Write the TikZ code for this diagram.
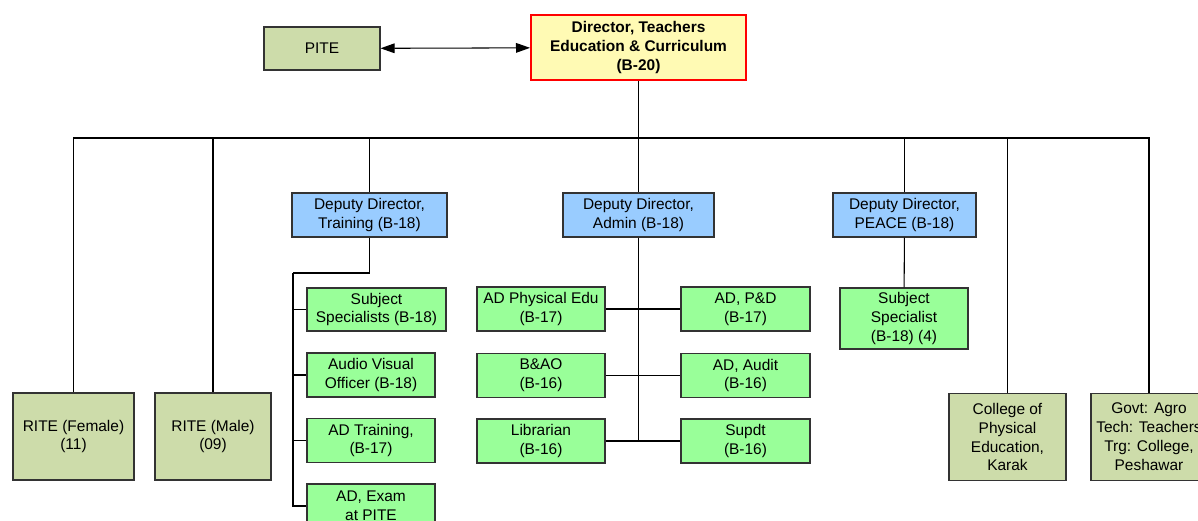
\documentclass[tikz,border=0pt]{standalone}
\usepackage{fontspec}
\setmainfont{Liberation Sans}
\usepackage{tikz}
\usetikzlibrary{arrows.meta, positioning}
\definecolor{olivefill}{RGB}{205,220,170}
\definecolor{greenfill}{RGB}{153,255,153}
\definecolor{bluefill}{RGB}{153,204,255}
\definecolor{yellowfill}{RGB}{255,250,180}
\tikzstyle{box} = [rectangle, draw=black!80, line width=0.6pt, align=center, inner sep=1pt,
    font=\fontsize{8.8}{10.8}\selectfont]
\tikzstyle{olivebox} = [box, fill=olivefill, minimum width=2.32cm, minimum height=1.74cm]
\tikzstyle{greenbox} = [box, fill=greenfill, minimum width=2.56cm, minimum height=0.88cm]
\tikzstyle{bluebox} = [box, fill=bluefill, minimum height=0.88cm]
\tikzstyle{headbox} = [box, draw=red, line width=1.1pt, fill=yellowfill, minimum width=4.3cm,
    minimum height=1.3cm, font=\fontsize{8.8}{10.8}\selectfont\bfseries]
\tikzstyle{line} = [line width=0.6pt]
\tikzstyle{arrow} = [line, <->, >={Triangle[length=8pt,width=5.5pt]}]

\begin{document}
\begin{tikzpicture}[x=0.02cm, y=-0.02cm]
  \useasboundingbox (0,0) rectangle (1198,521);
  % top
  \node (pite) [box, fill=olivefill, minimum width=2.32cm, minimum height=0.86cm] at (322,48.5) {PITE};
  \node (dir)  [headbox] at (638.5,47.5) {Director, Teachers\\Education \& Curriculum\\(B-20)};

  % second level
  \node (ritef)   [olivebox, minimum width=2.42cm] at (73.5,436.5) {RITE (Female)\\(11)};
  \node (ritem)   [olivebox] at (213,436.5) {RITE (Male)\\(09)};
  \node (ddt)     [bluebox, minimum width=3.1cm] at (369.5,215) {Deputy Director,\\Training (B-18)};
  \node (dda)     [bluebox, minimum width=3.02cm] at (638.5,215) {Deputy Director,\\Admin (B-18)};
  \node (ddp)     [bluebox, minimum width=2.86cm] at (904.5,215) {Deputy Director,\\PEACE (B-18)};
  \node (college) [olivebox, minimum width=2.34cm] at (1007.5,437) {College of\\Physical\\Education,\\Karak};
  \node (govt)    [olivebox] at (1149,437) {Govt: Agro\\Tech: Teachers\\Trg: College,\\Peshawar};

  % training
  \node (subj)  [greenbox, minimum width=2.78cm, minimum height=0.86cm] at (376.5,309.5) {Subject\\Specialists (B-18)};
  \node (audio) [greenbox] at (371,375) {Audio Visual\\Officer (B-18)};
  \node (adtr)  [greenbox] at (371,440.5) {AD Training,\\(B-17)};
  \node (exam)  [greenbox] at (371,506) {AD, Exam\\at PITE};

  % admin
  \node (adpe)  [greenbox] at (541,309) {AD Physical Edu\\(B-17)};
  \node (bao)   [greenbox] at (541,375.5) {B\&AO\\(B-16)};
  \node (lib)   [greenbox] at (541,441) {Librarian\\(B-16)};
  \node (adpd)  [greenbox, minimum width=2.58cm] at (745.5,309) {AD, P\&D\\(B-17)};
  \node (audit) [greenbox, minimum width=2.58cm] at (745.5,375.5) {AD, Audit\\(B-16)};
  \node (supdt) [greenbox, minimum width=2.58cm] at (745.5,441) {Supdt\\(B-16)};

  % peace
  \node (subsp) [greenbox, minimum height=1.22cm] at (904,318.5) {Subject\\Specialist\\(B-18) (4)};

  \draw[arrow] (pite) -- (dir);

  \coordinate (bus) at (638.5,138);
  \draw[line] (dir) -- (bus);
  \foreach \n in {ritef, ritem, ddt, dda, ddp, college, govt}
    \draw[line] (bus) -| (\n.north);

  \coordinate (tbend) at (293,273);
  \draw[line] (ddt.south) |- (tbend);
  \draw[line] (tbend) |- (exam.west);
  \foreach \n in {subj, audio, adtr}
    \draw[line] (tbend |- \n.west) -- (\n.west);

  \draw[line] (dda.south) -- (dda.south |- lib.east);
  \draw[line] (adpe) -- (adpd);
  \draw[line] (bao) -- (audit);
  \draw[line] (lib) -- (supdt);

  \draw[line] (ddp) -- (subsp);
\end{tikzpicture}
\end{document}
